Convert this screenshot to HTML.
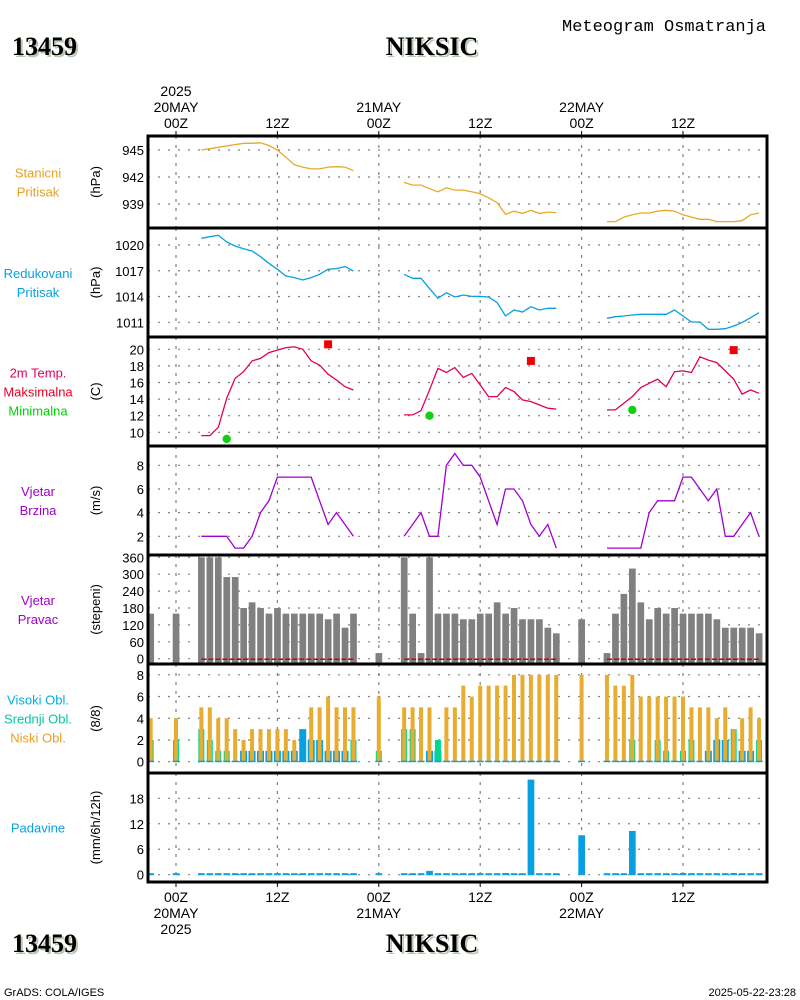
<!DOCTYPE html>
<html><head><meta charset="utf-8">
<style>
body{margin:0;background:#fff;}
svg{display:block;font-family:"Liberation Sans",sans-serif;}
</style></head>
<body>
<svg id="chart" width="800" height="1000" viewBox="0 0 800 1000" xmlns="http://www.w3.org/2000/svg">
<g>
<text x="562" y="31" font-size="17" fill="#000" font-family="Liberation Mono, monospace" textLength="204">Meteogram Osmatranja</text>
<text x="14" y="57" font-size="26" font-weight="bold" fill="#b8c8b0" font-family="Liberation Serif, serif">13459</text>
<text x="12" y="55" font-size="26" font-weight="bold" fill="#000" font-family="Liberation Serif, serif">13459</text>
<text x="434" y="57" font-size="26" font-weight="bold" fill="#b8c8b0" text-anchor="middle" font-family="Liberation Serif, serif">NIKSIC</text>
<text x="432" y="55" font-size="26" font-weight="bold" fill="#000" text-anchor="middle" font-family="Liberation Serif, serif">NIKSIC</text>
<text x="14" y="954" font-size="26" font-weight="bold" fill="#b8c8b0" font-family="Liberation Serif, serif">13459</text>
<text x="12" y="952" font-size="26" font-weight="bold" fill="#000" font-family="Liberation Serif, serif">13459</text>
<text x="434" y="954" font-size="26" font-weight="bold" fill="#b8c8b0" text-anchor="middle" font-family="Liberation Serif, serif">NIKSIC</text>
<text x="432" y="952" font-size="26" font-weight="bold" fill="#000" text-anchor="middle" font-family="Liberation Serif, serif">NIKSIC</text>
<text x="4" y="996" font-size="11" fill="#000">GrADS: COLA/IGES</text>
<text x="796" y="996" font-size="11" fill="#000" text-anchor="end">2025-05-22-23:28</text>
</g>
<g id="plots"></g>
</svg>
<script>
// ---- data ----
const obsHours = [-3,0,3,4,5,6,7,8,9,10,11,12,13,14,15,16,17,18,19,20,21,24,27,28,29,30,31,32,33,34,35,36,37,38,39,40,41,42,43,44,45,48,51,52,53,54,55,56,57,58,59,60,61,62,63,64,65,66,67,68,69];
const lineHours = [3,4,5,6,7,8,9,10,11,12,13,14,15,16,17,18,19,20,21,27,28,29,30,31,32,33,34,35,36,37,38,39,40,41,42,43,44,45,51,52,53,54,55,56,57,58,59,60,61,62,63,64,65,66,67,68,69];
const stationP = [945.0,945.15,945.3,945.45,945.6,945.75,945.75,945.8,945.5,945.0,944.2,943.35,943.1,942.9,942.9,943.1,943.15,943.1,942.7,
941.4,941.1,941.1,940.7,940.35,940.8,940.55,940.55,940.35,940.15,939.7,939.15,937.85,938.2,937.95,938.3,937.95,938.1,938.05,
937.05,937.05,937.55,937.8,938.0,938.0,938.2,938.3,938.2,937.8,937.55,937.3,937.3,937.05,937.05,937.05,937.15,937.8,938.0];
const reducedP = [1020.78,1020.97,1021.13,1020.35,1019.88,1019.57,1019.3,1018.64,1017.87,1017.17,1016.39,1016.2,1015.92,1016.2,1016.59,1017.17,1017.25,1017.48,1016.97,
1016.59,1016.12,1016.12,1014.92,1013.79,1014.45,1013.95,1014.18,1014.02,1014.02,1013.95,1013.29,1011.73,1012.43,1012.2,1012.82,1012.43,1012.63,1012.63,
1011.46,1011.65,1011.73,1011.85,1011.93,1011.93,1011.93,1011.93,1012.43,1011.73,1011.03,1011.03,1010.18,1010.18,1010.26,1010.57,1010.96,1011.54,1012.12];
const temp2m = [9.6,9.6,10.6,14.1,16.5,17.3,18.6,18.9,19.6,19.9,20.2,20.3,20.0,18.6,18.1,17.0,16.3,15.5,15.1,
12.1,12.1,12.6,15.1,17.7,17.2,17.8,16.6,17.1,15.7,14.3,14.3,15.4,14.9,13.9,13.7,13.3,12.9,12.8,
12.7,12.7,13.5,14.3,15.4,15.9,16.4,15.5,17.3,17.4,17.2,19.1,18.7,18.4,17.4,16.4,14.6,15.1,14.7];
const maxHours = [18,42,66];
const maxTemp = [20.6,18.6,19.9];
const minHours = [6,30,54];
const minTemp = [9.2,12.0,12.7];
const windSpeed = [2,2,2,2,1,1,2,4,5,7,7,7,7,7,5,3,4,3,2,
2,3,4,2,2,8,9,8,8,7,5,3,6,6,5,3,2,3,1,
1,1,1,1,1,4,5,5,5,7,7,6,5,6,2,2,3,4,2];
const windDir = [160,160,360,360,360,290,290,180,200,180,160,180,160,160,160,160,160,140,160,110,160,
20,360,160,20,360,160,160,160,140,140,160,160,200,160,180,140,140,140,110,90,
140,20,160,230,320,200,140,180,160,180,160,160,160,160,140,110,110,110,110,90];
const lowCloud = [4,4,5,5,4,4,3,2,3,3,3,3,3,2,0,5,5,6,5,5,5,
6,5,5,5,5,0,5,5,7,6,7,7,7,7,8,8,8,8,8,8,
8,8,7,7,8,6,6,6,6,6,6,5,5,5,4,5,3,4,5,4];
const midCloud = [2,2,3,2,1,1,0,0,0,0,0,0,0,0,0,0,0,0,0,0,2,
1,3,3,0,0,2,0,0,0,0,0,0,0,0,0,0,0,0,0,0,
0,0,0,0,2,0,0,2,1,0,1,2,0,0,0,0,3,0,0,2];
const highCloud = [0,0,0,0,0,0,0,1,1,1,1,1,1,1,3,2,2,1,1,1,0,
0,0,0,0,1,1,0,0,0,0,0,0,0,0,0,0,0,0,0,0,
0,0,0,0,0,0,0,0,0,0,0,0,0,1,2,2,0,1,1,0];
const precip = [0,0,0,0,0,0.3,0,0,0,0,0,0,0,0,0,0,0,0,0,0,0,
0,0,0,0,0.9,0,0,0,0,0,0,0,0,0.4,0,0,22.4,0,0,0,
9.3,0,0,0,10.3,0,0,0,0,0,0.4,0,0,0,0,0,0.4,0,0,0];
const pTicks1 = [945,942,939];
const pTicks2 = [1020,1017,1014,1011];
const tTicks = [20,18,16,14,12,10];
const wTicks = [8,6,4,2];
const dTicks = [360,300,240,180,120,60,0];
const cTicks = [8,6,4,2,0];
const rTicks = [18,12,6,0];
const timeTickHours = [0,12,24,36,48,60];
const timeTickLabels = ['00Z','12Z','00Z','12Z','00Z','12Z'];

// ---- layout ----
const NS='http://www.w3.org/2000/svg';
const root=document.getElementById('plots');
const X0=148,X1=767;
function xs(h){return 176+h*8.45;}
function lin(v0,y0,v1,y1){return v=>y0+(v-v0)*(y1-y0)/(v1-v0);}
function mk(tag,attrs,parent){const e=document.createElementNS(NS,tag);for(const k in attrs)e.setAttribute(k,attrs[k]);(parent||root).appendChild(e);return e;}

const panels=[
 {top:136,bot:228,y:lin(945,150,939,204),ticks:pTicks1,unit:'(hPa)',name:'station-pressure-panel'},
 {top:228,bot:337,y:lin(1020,245,1011,322.3),ticks:pTicks2,unit:'(hPa)',name:'reduced-pressure-panel'},
 {top:337,bot:446,y:lin(20,349.3,10,432.3),ticks:tTicks,unit:'(C)',name:'temperature-panel'},
 {top:446,bot:555,y:lin(8,465.3,2,536.3),ticks:wTicks,unit:'(m/s)',name:'wind-speed-panel'},
 {top:555,bot:664,y:lin(360,557.3,0,658.7),ticks:dTicks,unit:'(stepeni)',name:'wind-direction-panel'},
 {top:664,bot:773,y:lin(8,674.8,0,761.7),ticks:cTicks,unit:'(8/8)',name:'cloud-panel'},
 {top:773,bot:882,y:lin(18,798.3,0,874.7),ticks:rTicks,unit:'(mm/6h/12h)',name:'precipitation-panel'}
];
const labels=[
 [['Stanicni','#e8a020'],['Pritisak','#e8a020']],
 [['Redukovani','#0aa0e0'],['Pritisak','#0aa0e0']],
 [['2m Temp.','#e0005a'],['Maksimalna','#e80020'],['Minimalna','#00d000']],
 [['Vjetar','#a000c8'],['Brzina','#a000c8']],
 [['Vjetar','#a000c8'],['Pravac','#a000c8']],
 [['Visoki Obl.','#00b0e0'],['Srednji Obl.','#00c8a0'],['Niski Obl.','#e8a020']],
 [['Padavine','#0aa0e0']]
];

panels.forEach((p,i)=>{
 const g=mk('g',{});
 
 
 p.ticks.forEach(t=>{
  const yy=p.y(t);
  const l=mk('line',{x1:X0,x2:X1,y1:yy,y2:yy,stroke:'#808080','stroke-width':1.2,'stroke-dasharray':'2,8'},g);
  
  
  const tx=mk('text',{x:144,y:yy+5,'font-size':13,'text-anchor':'end',fill:'#000'},g);
  tx.textContent=t;
  
  
 });
 timeTickHours.forEach(h=>{
  const l=mk('line',{x1:xs(h),x2:xs(h),y1:p.top,y2:p.bot,stroke:'#808080','stroke-width':1.2,'stroke-dasharray':'3,6'},g);
  
  
 });
 const cy=(p.top+p.bot)/2;
 const u=mk('text',{x:0,y:0,'font-size':13,'text-anchor':'middle',fill:'#000',transform:`translate(100 ${cy}) rotate(-90)`},g);
 u.textContent=p.unit;
 
 
 const L=labels[i];const start=cy-(L.length-1)*9.5+5;
 L.forEach((lb,j)=>{
  const t=mk('text',{x:38,y:start+j*19,'font-size':13,'text-anchor':'middle',fill:lb[1]},g);
  t.textContent=lb[0];
  
  
 });
});

function drawLine(vals,yfn,color,name){
 let d='';
 lineHours.forEach((h,i)=>{
  const brk=i===0||h-lineHours[i-1]>1;
  d+=(brk?'M':'L')+xs(h).toFixed(1)+','+yfn(vals[i]).toFixed(1);
 });
 const e=mk('path',{d:d,fill:'none',stroke:color,'stroke-width':1.3});
 
 
}
drawLine(stationP,panels[0].y,'#e8a828','station-pressure-line');
drawLine(reducedP,panels[1].y,'#08a0e0','reduced-pressure-line');
drawLine(temp2m,panels[2].y,'#e0005a','temperature-line');
drawLine(windSpeed,panels[3].y,'#a000d0','wind-speed-line');

maxHours.forEach((h,i)=>{
 const e=mk('rect',{x:xs(h)-4,y:panels[2].y(maxTemp[i])-4,width:8,height:8,fill:'#f00000'});
 
 
});
minHours.forEach((h,i)=>{
 const e=mk('circle',{cx:xs(h),cy:panels[2].y(minTemp[i]),r:4.2,fill:'#10d010'});
 
 
});

const yd=panels[4].y;
obsHours.forEach((h,i)=>{
 const top=yd(windDir[i]);
 const e=mk('rect',{x:xs(h)-3.3,y:top,width:6.7,height:yd(0)+5-top,fill:'#808080'});
 
 
});
[[3,21],[27,45],[51,69]].forEach(s=>{
 const e=mk('line',{x1:xs(s[0]),x2:xs(s[1]),y1:yd(0)+0.5,y2:yd(0)+0.5,stroke:'#d00000','stroke-width':1.5,'stroke-dasharray':'5,2'});
 
 
});

const yc=panels[5].y;
obsHours.forEach((h,i)=>{
 const cx=xs(h);
 if(highCloud[i]>0){const e=mk('rect',{x:cx-3.5,y:yc(highCloud[i]),width:7,height:yc(0)-yc(highCloud[i]),fill:'#08a0e0'});
  }
 if(midCloud[i]>0){const e=mk('rect',{x:cx-3,y:yc(midCloud[i]),width:6,height:yc(0)-yc(midCloud[i]),fill:'#00d890'});
  }
 if(lowCloud[i]>0){const e=mk('rect',{x:cx-2,y:yc(lowCloud[i]),width:4,height:yc(0)-yc(lowCloud[i]),fill:'#e8ac30'});
  }
 const b=mk('rect',{x:cx-3.5,y:yc(0)-1,width:7,height:1.5,fill:'#08a0e0'});
 
 
});

const yr=panels[6].y;
obsHours.forEach((h,i)=>{
 const top=Math.min(yr(precip[i]),yr(0)-1.5);
 const e=mk('rect',{x:xs(h)-3.3,y:top,width:6.7,height:yr(0)+0.5-top,fill:'#08a0e0'});
 
 
});

const fr=mk('rect',{x:X0,y:136,width:X1-X0,height:882-136,fill:'none',stroke:'#000','stroke-width':3});


panels.slice(1).forEach(p=>{
 const e=mk('line',{x1:X0,x2:X1,y1:p.top,y2:p.top,stroke:'#000','stroke-width':3});
 
 
});

const topDates={0:['2025','20MAY'],24:['21MAY'],48:['22MAY']};
const botDates={0:['20MAY','2025'],24:['21MAY'],48:['22MAY']};
timeTickHours.forEach((h,i)=>{
 const x=xs(h);
 mk('line',{x1:x,x2:x,y1:131,y2:136,stroke:'#000','stroke-width':1});
 mk('line',{x1:x,x2:x,y1:882,y2:887,stroke:'#000','stroke-width':1});
 const t=mk('text',{x:x,y:128,'font-size':14,'text-anchor':'middle',fill:'#000'});
 t.textContent=timeTickLabels[i];
 
 
 const b=mk('text',{x:x,y:902,'font-size':14,'text-anchor':'middle',fill:'#000'});
 b.textContent=timeTickLabels[i];
 
 
 if(topDates[h]){const a=topDates[h];a.forEach((s,j)=>{
  const e=mk('text',{x:x,y:128-16*(a.length-j),'font-size':14,'text-anchor':'middle',fill:'#000'});
  e.textContent=s;
  
  });}
 if(botDates[h]){botDates[h].forEach((s,j)=>{
  const e=mk('text',{x:x,y:918+16*j,'font-size':14,'text-anchor':'middle',fill:'#000'});
  e.textContent=s;
  
  });}
});
</script>
</body></html>
